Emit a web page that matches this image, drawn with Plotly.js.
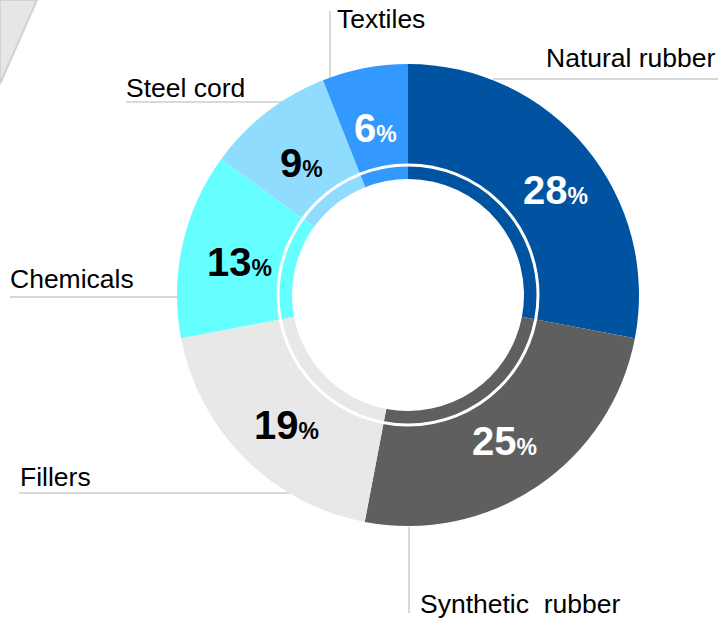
<!DOCTYPE html>
<html>
<head>
<meta charset="utf-8">
<script src="https://cdn.plot.ly/plotly-3.0.1.min.js"></script>
<style>html,body{margin:0;padding:0;background:#fff;}#chart{width:720px;height:619px;}</style>
</head>
<body>
<div id="chart"></div>
<script>
// ---- data ----
var categories = ["Natural rubber", "Synthetic  rubber", "Fillers", "Chemicals", "Steel cord", "Textiles"];
var shares = [28, 25, 19, 13, 9, 6];

// ---- styles ----
var sliceColors = ["#0053a0", "#5f5f5f", "#e8e8e8", "#66ffff", "#8fdcff", "#3399ff"];
var valueTextColors = ["#ffffff", "#ffffff", "#000000", "#000000", "#000000", "#ffffff"];
// value label centres (pixels)
var valuePos = [[555, 190], [505, 441], [286, 425], [239, 262], [301, 163], [375, 128]];
// category label anchors (pixels): [x, y, xanchor]
var catPos = [[718, 58, "right"], [418, 604, "left"], [18, 477, "left"], [8, 279, "left"], [124, 88, "left"], [335, 19, "left"]];
// leader lines (pixels)
var leaders = [[493, 79, 718, 79], [409, 527, 409, 613], [19, 493, 290, 493], [10, 297, 178, 297], [126, 102, 282, 102], [330, 11, 330, 80]];

var W = 720, H = 619;
function px(x) { return x / W; }
function py(y) { return 1 - y / H; }

var cx = 408, cy = 295, R = 231, ringR = 130, holeR = 116;

var trace = {
  type: "pie",
  labels: categories,
  values: shares,
  sort: false,
  direction: "clockwise",
  rotation: 0,
  hole: holeR / R,
  marker: { colors: sliceColors, line: { width: 0 } },
  textinfo: "none",
  hoverinfo: "skip",
  showlegend: false,
  domain: { x: [px(cx - R), px(cx + R)], y: [py(cy + R), py(cy - R)] }
};

var fontFam = "Liberation Sans, Arial, sans-serif";
var annotations = [];
for (var i = 0; i < categories.length; i++) {
  annotations.push({
    xref: "paper", yref: "paper",
    x: px(valuePos[i][0]), y: py(valuePos[i][1]),
    xanchor: "center", yanchor: "middle",
    showarrow: false,
    text: "<b>" + shares[i] + "</b><b><span style='font-size:23px'>%</span></b>",
    font: { family: fontFam, size: 40, color: valueTextColors[i] }
  });
  annotations.push({
    xref: "paper", yref: "paper",
    x: px(catPos[i][0]), y: py(catPos[i][1]),
    xanchor: catPos[i][2], yanchor: "middle",
    showarrow: false,
    text: categories[i].replace(/  /g, " &nbsp;"),
    font: { family: fontFam, size: 26.5, color: "#000000" }
  });
}

var shapes = [];
// decorative grey band top-left
shapes.push({
  type: "path", xref: "paper", yref: "paper",
  path: "M 0," + py(0) + " L " + px(37) + "," + py(0) + " L 0," + py(84) + " Z",
  fillcolor: "#e6e6e6", line: { color: "#d2d2d2", width: 2 }, layer: "below"
});
leaders.forEach(function (l) {
  shapes.push({
    type: "line", xref: "paper", yref: "paper",
    x0: px(l[0]), y0: py(l[1]), x1: px(l[2]), y1: py(l[3]),
    line: { color: "#d9d9d9", width: 2 }, layer: "below"
  });
});
// white inner ring
shapes.push({
  type: "circle", xref: "paper", yref: "paper",
  x0: px(cx - ringR), x1: px(cx + ringR), y0: py(cy + ringR), y1: py(cy - ringR),
  line: { color: "#ffffff", width: 3 }, fillcolor: "rgba(0,0,0,0)", layer: "above"
});

var layout = {
  width: W, height: H,
  margin: { l: 0, r: 0, t: 0, b: 0 },
  paper_bgcolor: "#ffffff",
  plot_bgcolor: "#ffffff",
  showlegend: false,
  annotations: annotations,
  shapes: shapes
};

Plotly.newPlot("chart", [trace], layout, { displayModeBar: false, staticPlot: true });
</script>
</body>
</html>
